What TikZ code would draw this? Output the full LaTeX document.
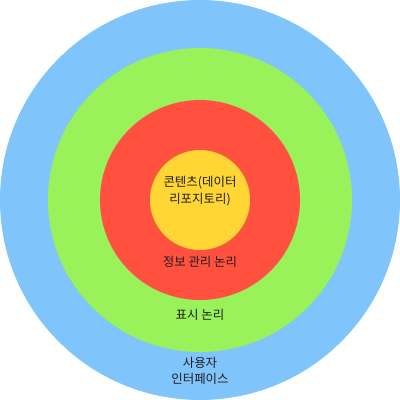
\documentclass[tikz,border=0pt]{standalone}
\usepackage{fontspec}
\newfontfamily\kr{Noto Sans CJK KR}
\definecolor{cblue}{RGB}{128,196,252}
\definecolor{cgreen}{RGB}{153,242,90}
\definecolor{cred}{RGB}{255,80,64}
\definecolor{cyellow}{RGB}{255,214,51}
\definecolor{ctext}{RGB}{30,30,30}
\tikzset{ring/.style={draw=none},
lbl/.style={font=\kr\fontsize{12.5}{16.5}\selectfont, text=ctext, align=center, inner sep=0pt}}
\begin{document}
\begin{tikzpicture}[x=1bp,y=-1bp]
\useasboundingbox (0,0) rectangle (400,400);
\fill[cblue] (200,200) circle (200);
\fill[cgreen] (200,200) circle (152);
\fill[cred] (200,200) circle (100);
\fill[cyellow] (200,200) circle (50);
\node[lbl] (content) at (200,191) {콘텐츠(데이터\\리포지토리)};
\node[lbl] (info) at (200,262) {정보 관리 논리};
\node[lbl] (disp) at (200,315) {표시 논리};
\node[lbl] (ui) at (200,371) {사용자\\인터페이스};
\end{tikzpicture}
\end{document}
